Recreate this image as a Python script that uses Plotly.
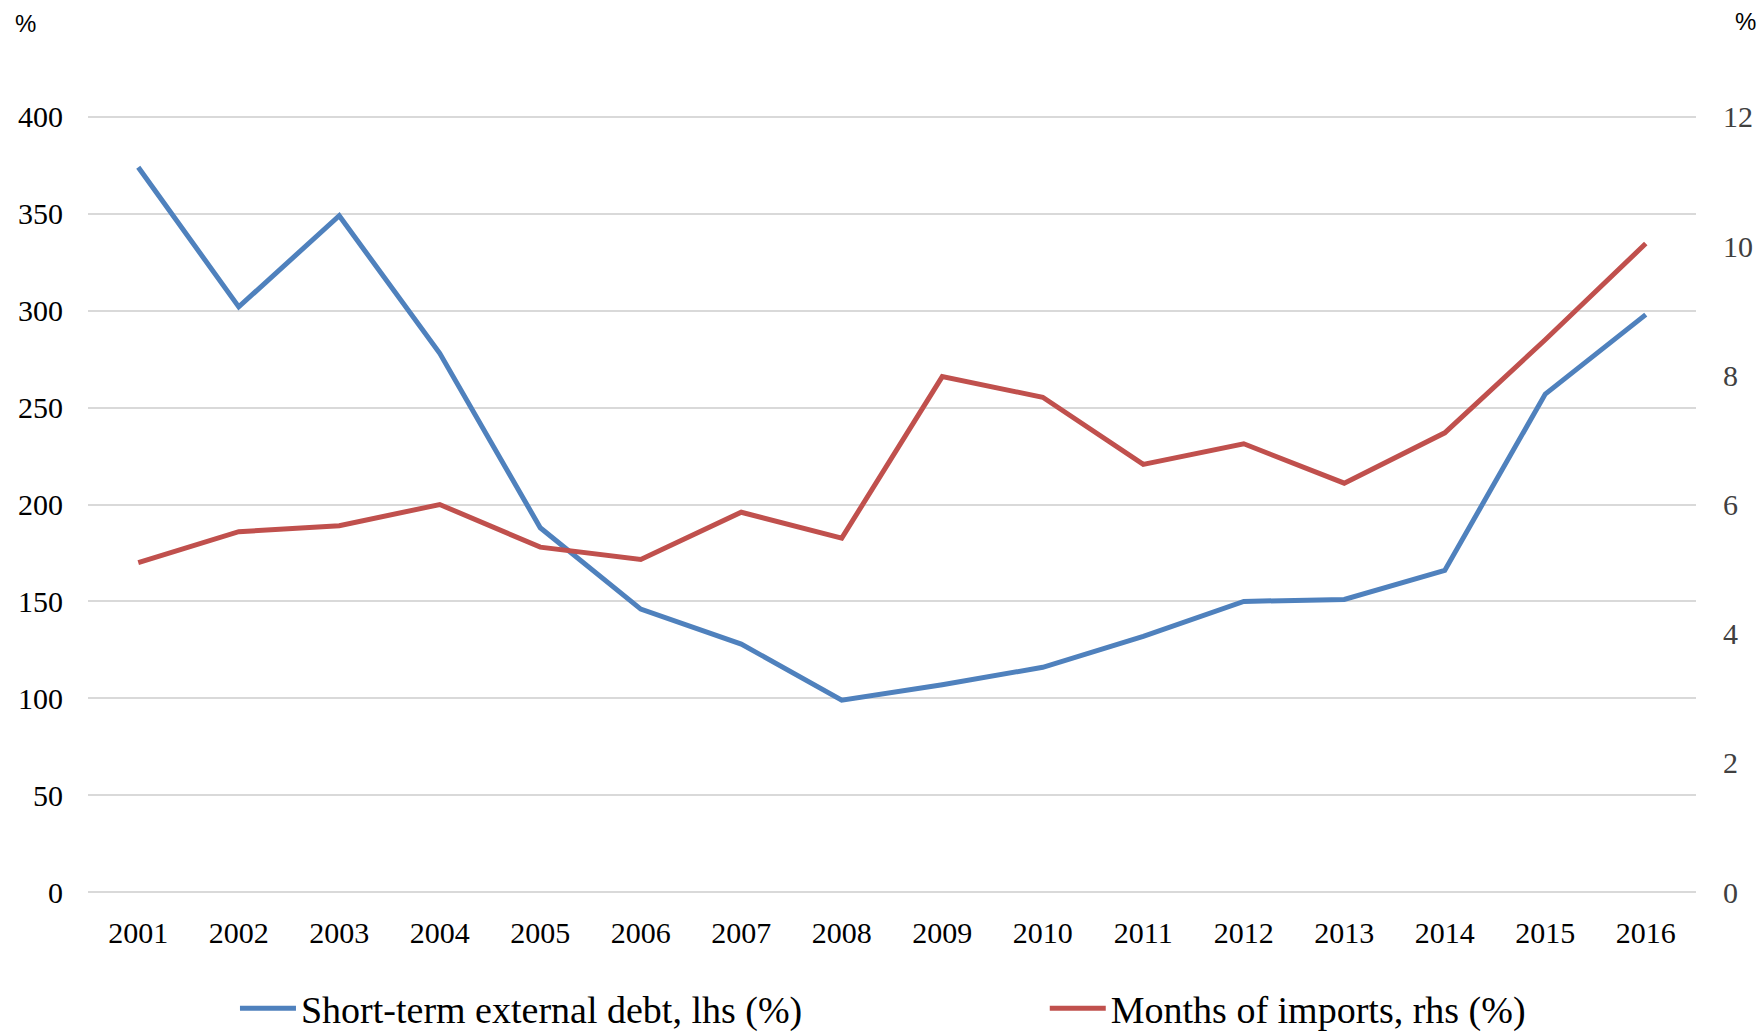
import plotly.graph_objects as go

years = [str(y) for y in range(2001, 2017)]
short_term_debt = [374, 302, 349, 278, 188, 146, 128, 99, 107, 116, 132, 150, 151, 166, 257, 298]
months_imports = [5.10, 5.58, 5.67, 6.00, 5.34, 5.15, 5.88, 5.48, 7.98, 7.66, 6.62, 6.94, 6.33, 7.11, 8.55, 10.04]
left_ticks = [0, 50, 100, 150, 200, 250, 300, 350, 400]
right_ticks = [0, 2, 4, 6, 8, 10, 12]

BLUE = "#4F81BD"
RED = "#C0504D"
SERIF = "Liberation Serif"

fig = go.Figure()
fig.add_trace(go.Scatter(
    x=years, y=short_term_debt, mode="lines",
    name="Short-term external debt, lhs (%)",
    line=dict(color=BLUE, width=5),
    yaxis="y", legend="legend",
))
fig.add_trace(go.Scatter(
    x=years, y=months_imports, mode="lines",
    name="Months of imports, rhs (%)",
    line=dict(color=RED, width=5),
    yaxis="y2", legend="legend2",
))

legend_common = dict(
    orientation="h", yanchor="middle", y=-0.147,
    font=dict(family=SERIF, size=38, color="black"),
    itemwidth=56, bgcolor="rgba(0,0,0,0)", borderwidth=0,
)

fig.update_layout(
    width=1762, height=1036,
    margin=dict(l=88, r=66, t=115, b=142, autoexpand=False),
    paper_bgcolor="white", plot_bgcolor="white",
    font=dict(family=SERIF, size=30, color="black"),
    showlegend=True,
    legend=dict(x=0.0914, xanchor="left", **legend_common),
    legend2=dict(x=0.595, xanchor="left", **legend_common),
    xaxis=dict(
        type="category", range=[-0.5, 15.5],
        showgrid=False, zeroline=False, showline=False,
        ticks="", ticklabelstandoff=18,
        tickfont=dict(family=SERIF, size=30, color="black"),
    ),
    yaxis=dict(
        range=[-1.0, 401.0], tickvals=left_ticks,
        showgrid=True, gridcolor="#d9d9d9", gridwidth=2,
        zeroline=True, zerolinecolor="#d9d9d9", zerolinewidth=2,
        showline=False, ticks="",
        ticklabelstandoff=24,
        tickfont=dict(family=SERIF, size=30, color="black"),
    ),
    yaxis2=dict(
        range=[-0.03, 12.03], tickvals=right_ticks,
        overlaying="y", side="right",
        showgrid=False, zeroline=False, showline=False, ticks="",
        ticklabelstandoff=26,
        tickfont=dict(family=SERIF, size=30, color="#404040"),
    ),
    annotations=[
        dict(text="%", xref="paper", yref="paper", x=-0.039, y=1.117,
             xanchor="center", yanchor="middle", showarrow=False,
             font=dict(family="Liberation Sans", size=24, color="black")),
        dict(text="%", xref="paper", yref="paper", x=1.0306, y=1.12,
             xanchor="center", yanchor="middle", showarrow=False,
             font=dict(family="Liberation Sans", size=24, color="black")),
    ],
)

fig.write_html(
    "out.html",
    config={"displayModeBar": False},
    post_script="document.body.style.margin='0';document.body.style.overflow='hidden';",
)
